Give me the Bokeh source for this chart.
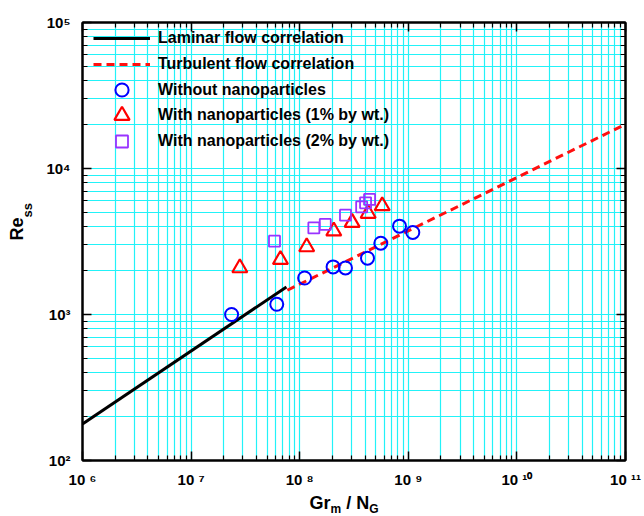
import math
from bokeh.plotting import figure
from bokeh.models import (LogAxis, FixedTicker, Label, Legend, LegendItem, Range1d)
from bokeh.layouts import row, column
from bokeh.embed import file_html
from bokeh.resources import INLINE

# ---- data ----
laminar_x = [1e6, 7.55e7]
laminar_y = [178, 1545]
turbulent_x = [7.7e7, 1e11]
turbulent_y = [1466, 20100]

base_x = [2.36e7, 6.15e7, 1.11e8, 2.03e8, 2.64e8, 4.21e8, 5.58e8, 8.3e8, 1.10e9]
base_y = [1000, 1175, 1778, 2118, 2084, 2429, 3077, 4027, 3648]

np1_x = [2.81e7, 6.65e7, 1.16e8, 2.06e8, 3.04e8, 4.27e8, 5.75e8]
np1_y = [2084, 2377, 2904, 3724, 4266, 4920, 5546]

np2_x = [5.86e7, 1.35e8, 1.72e8, 2.64e8, 3.72e8, 4.04e8, 4.40e8]
np2_y = [3177, 3917, 4140, 4786, 5457, 5820, 6137]

x_ticks = [1e6, 1e7, 1e8, 1e9, 1e10, 1e11]
x_tick_labels = ["10 \u2076", "10 \u2077", "10 \u2078", "10 \u2079", "10 \u00b9\u2070", "10 \u00b9\u00b9"]
y_ticks = [1e2, 1e3, 1e4, 1e5]
y_tick_labels = ["10\u00b2", "10\u00b3", "10\u2074", "10\u2075"]

legend_labels = ["Laminar flow correlation", "Turbulent flow correlation",
                 "Without nanoparticles", "With nanoparticles (1% by wt.)",
                 "With nanoparticles (2% by wt.)"]

FONT = "Liberation Sans"

def minors(majors):
    out = []
    for m in majors[:-1]:
        out += [m * k for k in range(2, 10)]
    return out

p = figure(width=604, height=494,
           x_axis_type="log", y_axis_type="log",
           x_range=Range1d(1e6, 1e11), y_range=Range1d(1e2, 1e5),
           output_backend="svg", toolbar_location=None, title=None,
           min_border_left=42, min_border_right=19, min_border_top=22, min_border_bottom=34)

p.outline_line_color = "black"
p.outline_line_width = 2

xt = FixedTicker(ticks=x_ticks, minor_ticks=minors(x_ticks))
yt = FixedTicker(ticks=y_ticks, minor_ticks=minors(y_ticks))

for g, t in ((p.xgrid, xt), (p.ygrid, yt)):
    g.ticker = t
    g.grid_line_color = "#22F2F8"
    g.grid_line_width = 1.2
    g.minor_grid_line_color = "#22F2F8"
    g.minor_grid_line_width = 1.2

def style_axis(ax, ticker, labels=None):
    ax.ticker = ticker
    ax.axis_label = None
    ax.axis_line_color = "black"
    ax.axis_line_width = 2
    ax.major_tick_in = 9
    ax.major_tick_out = 0
    ax.minor_tick_in = 5
    ax.minor_tick_out = 0
    ax.major_tick_line_width = 1.5
    ax.minor_tick_line_width = 1.2
    ax.major_tick_line_color = "black"
    ax.minor_tick_line_color = "black"
    ax.major_label_text_font = FONT
    ax.major_label_text_font_style = "bold"
    ax.major_label_text_font_size = "15px"
    ax.major_label_text_color = "black"
    if labels is None:
        ax.major_label_text_font_size = "1px"
        ax.major_label_text_color = None
        ax.major_label_standoff = 0
    else:
        ax.major_label_overrides = labels

style_axis(p.xaxis[0], xt, {v: s for v, s in zip(x_ticks, x_tick_labels)})
style_axis(p.yaxis[0], yt, {v: s for v, s in zip(y_ticks, y_tick_labels)})
p.xaxis[0].major_label_standoff = 10
p.yaxis[0].major_label_standoff = 12

top = LogAxis()
right = LogAxis()
style_axis(top, xt)
style_axis(right, yt)
p.add_layout(top, "above")
p.add_layout(right, "right")

r_lam = p.line(laminar_x, laminar_y, line_color="black", line_width=3)
r_tur = p.line(turbulent_x, turbulent_y, line_color="#FF1010", line_width=3, line_dash="8 5")
r_b = p.scatter(base_x, base_y, marker="circle", size=13, fill_alpha=0,
                line_color="#0000FF", line_width=2)
r_1 = p.scatter(np1_x, np1_y, marker="triangle", size=15, fill_alpha=0,
                line_color="#FF0000", line_width=2.2)
r_2 = p.scatter(np2_x, np2_y, marker="square", size=11, fill_alpha=0,
                line_color="#9933FF", line_width=1.8)

# one legend per entry so that rows and marker sizes match the original
FRAME_H = 438
rows_y = [38.5, 64, 90, 115.5, 141]        # row centres, px from the page top
glyph_h = [20, 20, 33, 38, 30]              # legend markers are 0.4 * glyph box
for lbl, r, yc, gh in zip(legend_labels, [r_lam, r_tur, r_b, r_1, r_2], rows_y, glyph_h):
    vy = int(round(FRAME_H - (yc - 22) - gh / 2))
    lg = Legend(items=[LegendItem(label=lbl, renderers=[r])],
                location=(11, vy), orientation="vertical",
                background_fill_alpha=0, border_line_alpha=0,
                glyph_width=57, glyph_height=gh, label_height=gh, spacing=0,
                label_standoff=8, padding=0, margin=0,
                label_text_font=FONT, label_text_font_style="bold",
                label_text_font_size="16px", label_text_color="black")
    p.add_layout(lg, "center")


def text_fig(w, h):
    f = figure(width=w, height=h, x_range=Range1d(0, w), y_range=Range1d(0, h),
               output_backend="svg", toolbar_location=None, title=None,
               x_axis_location=None, y_axis_location=None,
               min_border=0, min_border_left=0, min_border_right=0,
               min_border_top=0, min_border_bottom=0)
    f.outline_line_color = None
    f.xgrid.visible = False
    f.ygrid.visible = False
    return f


def lab(f, x, y, text, size, angle=0.0):
    f.add_layout(Label(x=x, y=y, x_units="screen", y_units="screen", text=text,
                       text_font=FONT, text_font_style="bold",
                       text_font_size=size, text_color="black",
                       text_align="left", text_baseline="alphabetic", angle=angle))

# y-axis title: Re_ss (page x 0..40, y 0..494)
fy = text_fig(40, 494)
lab(fy, 16, 494 - 274, "Re", "18px", angle=math.pi / 2)
lab(fy, 27, 494 - 251, "ss", "13px", angle=math.pi / 2)

# x-axis title: Gr_m / N_G (page x 0..644, y 494..516)
fx = text_fig(644, 22)
x0 = 309
lab(fx, x0, 14, "Gr", "18px")
lab(fx, x0 + 21.0, 8, "m", "12px")
lab(fx, x0 + 36.7, 14, "/ N", "18px")
lab(fx, x0 + 59.7, 8, "G", "12px")

layout = column(row(fy, p, spacing=0), fx, spacing=0)
open("out.html", "w").write(file_html(layout, INLINE))
